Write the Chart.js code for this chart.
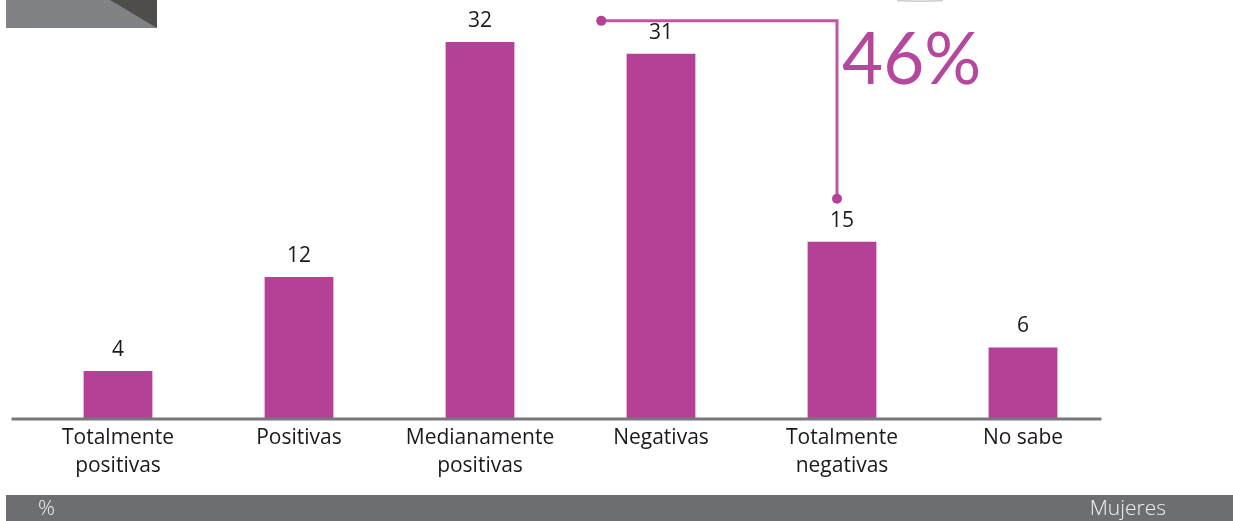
<!DOCTYPE html>
<html>
<head>
<meta charset="utf-8">
<script src="https://cdn.jsdelivr.net/npm/chart.js@4/dist/chart.umd.min.js"></script>
<style>
  html, body { margin: 0; padding: 0; background: #fff; }
  #wrap { width: 1233px; height: 521px; position: relative; }
</style>
</head>
<body>
<div id="wrap"><canvas id="opinionChart"></canvas></div>
<script>
// Opiniones (mujeres, %)
const categories = [
  ["Totalmente", "positivas"],
  "Positivas",
  ["Medianamente", "positivas"],
  "Negativas",
  ["Totalmente", "negativas"],
  "No sabe"
];
const values = [4, 12, 32, 31, 15, 6];
const negativeTotal = "46%";
const unitLabel = "%";
const groupLabel = "Mujeres";

const BAR_COLOR = "#b54197";
const LINE_COLOR = "#bf55a6";

// Frame pieces: header tab, baseline, footer strip, bracket with total
const decorations = {
  id: "decorations",
  beforeDraw(chart) {
    const ctx = chart.ctx;
    ctx.save();
    // header tab top-left
    ctx.fillStyle = "#808285";
    ctx.fillRect(6, 0, 151, 28);
    ctx.fillStyle = "#4f4d4a";
    ctx.beginPath();
    ctx.moveTo(110, 0);
    ctx.lineTo(157, 0);
    ctx.lineTo(157, 28);
    ctx.closePath();
    ctx.fill();
    // faint arc edge at the top
    ctx.strokeStyle = "rgba(170,170,170,0.6)";
    ctx.lineWidth = 1.5;
    ctx.beginPath();
    ctx.moveTo(897, 0.5);
    ctx.quadraticCurveTo(920, 2, 943, 0.5);
    ctx.stroke();
    // footer strip
    ctx.fillStyle = "#6d6e71";
    ctx.fillRect(6, 495, chart.width - 6, 26);
    ctx.fillStyle = "#f2f2f2";
    ctx.font = "300 21px 'Open Sans'";
    ctx.textBaseline = "middle";
    ctx.textAlign = "left";
    ctx.fillText(unitLabel, 38, 509);
    ctx.textAlign = "right";
    ctx.fillText(groupLabel, 1166, 509);
    ctx.restore();
  },
  afterDatasetsDraw(chart) {
    const ctx = chart.ctx;
    const x = chart.scales.x;
    const y = chart.scales.y;
    const area = chart.chartArea;
    ctx.save();
    // baseline
    ctx.strokeStyle = "#77787b";
    ctx.lineWidth = 3;
    ctx.beginPath();
    ctx.moveTo(area.left - 16, area.bottom + 1);
    ctx.lineTo(area.right - 12, area.bottom + 1);
    ctx.stroke();

    // bracket over the negative answers
    const step = x.getPixelForValue(1) - x.getPixelForValue(0);
    const x0 = x.getPixelForValue(2) + step * 0.67;
    const x1 = x.getPixelForValue(4) - 5;
    const yTop = y.getPixelForValue(33.8);
    const yEnd = y.getPixelForValue(values[4]) - 43;
    ctx.strokeStyle = LINE_COLOR;
    ctx.lineWidth = 3;
    ctx.beginPath();
    ctx.moveTo(x0, yTop);
    ctx.lineTo(x1, yTop);
    ctx.lineTo(x1, yEnd);
    ctx.stroke();
    ctx.fillStyle = BAR_COLOR;
    [[x0, yTop], [x1, yEnd]].forEach(([px, py]) => {
      ctx.beginPath();
      ctx.arc(px, py, 5, 0, Math.PI * 2);
      ctx.fill();
    });
    ctx.fillStyle = "#b5479d";
    ctx.font = "400 71px Lato";
    ctx.textAlign = "left";
    ctx.textBaseline = "alphabetic";
    ctx.fillText(negativeTotal, x1 + 5, yTop + 63);

    // value labels above bars
    const meta = chart.getDatasetMeta(0);
    ctx.fillStyle = "#1a1a1a";
    ctx.font = "21px 'Open Sans'";
    ctx.textAlign = "center";
    ctx.textBaseline = "middle";
    meta.data.forEach((bar, i) => {
      ctx.fillText(values[i], bar.x, bar.y - 21);
    });
    ctx.restore();
  }
};

const ctx = document.getElementById("opinionChart").getContext("2d");
new Chart(ctx, {
  type: "bar",
  data: {
    labels: categories,
    datasets: [{
      data: values,
      backgroundColor: BAR_COLOR,
      borderWidth: 0,
      barPercentage: 0.38,
      categoryPercentage: 1
    }]
  },
  options: {
    responsive: true,
    maintainAspectRatio: false,
    animation: false,
    layout: { padding: { left: 27.5, right: 119.5, top: 42, bottom: 0 } },
    plugins: { legend: { display: false }, tooltip: { enabled: false } },
    scales: {
      x: {
        grid: { display: false, drawTicks: false },
        border: { display: false },
        ticks: {
          color: "#1a1a1a",
          font: { family: "'Open Sans'", size: 21, lineHeight: 1.33 },
          padding: 6,
          maxRotation: 0,
          autoSkip: false
        },
        afterFit(scale) { scale.height = 103; }
      },
      y: {
        display: false,
        min: 0,
        max: 32
      }
    }
  },
  plugins: [decorations]
});
</script>
</body>
</html>
